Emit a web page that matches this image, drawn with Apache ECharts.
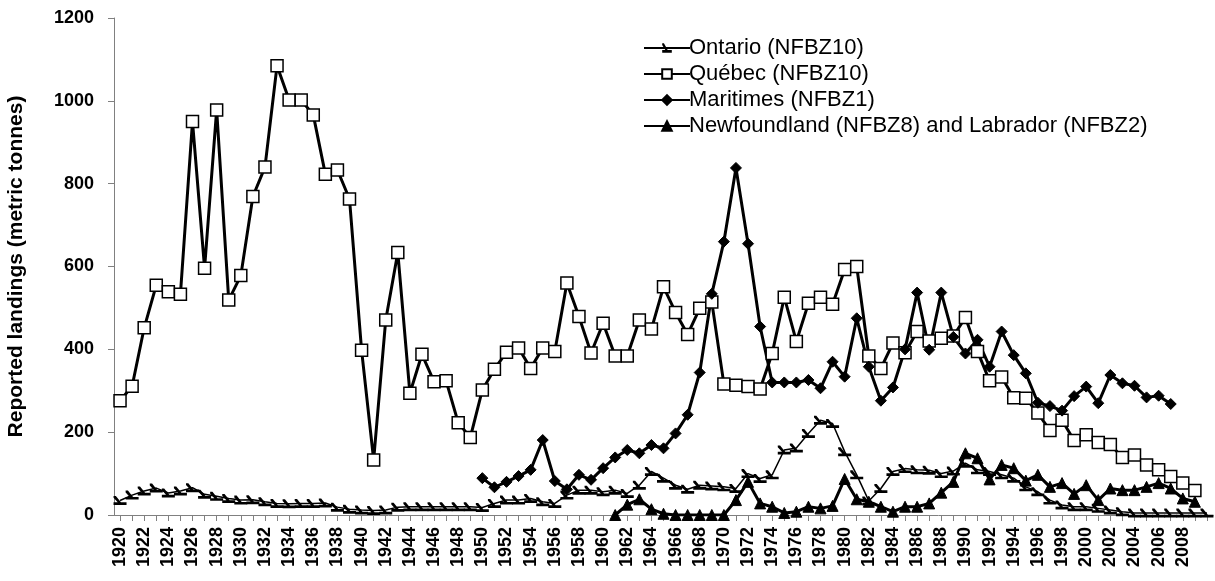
<!DOCTYPE html>
<html>
<head>
<meta charset="utf-8">
<script src="https://cdn.jsdelivr.net/npm/echarts@6/dist/echarts.min.js"></script>
<style>
  html, body { margin: 0; padding: 0; background: #fff; }
  #chart { width: 1215px; height: 581px; }
</style>
</head>
<body>
<div id="chart"></div>
<script>
// years 1920..2010
const years = [];
for (let y = 1920; y <= 2010; y++) years.push(String(y));

const yTicks = [0, 200, 400, 600, 800, 1000, 1200];

// Ontario (NFBZ10), 1920-2010
const ontario = [
  35, 48, 58, 65, 53, 58, 66, 50, 45, 40,
  36, 37, 32, 28, 27, 28, 28, 29, 19, 14,
  12, 11, 12, 19, 20, 20, 20, 20, 20, 20,
  18, 28, 36, 36, 40, 32, 28, 48, 60, 60,
  56, 60, 52, 72, 105, 89, 72, 62, 72, 70,
  68, 64, 100, 88, 97, 157, 162, 197, 229, 221,
  153, 97, 34, 64, 105, 112, 109, 108, 100, 106,
  125, 109, 105, 97, 89, 68, 56, 36, 24, 20,
  20, 16, 12, 8, 5, 5, 5, 5, 5, 5,
  5
];

// Québec (NFBZ10), 1920-2009
const quebec = [
  276, 311, 452, 555, 539, 533, 950, 596, 978, 519,
  578, 769, 840, 1085, 1002, 1002, 966, 823, 833, 763,
  398, 133, 471, 634, 294, 388, 322, 324, 223, 187,
  302, 352, 393, 403, 354, 403, 395, 560, 479, 391,
  463, 384, 384, 471, 449, 551, 489, 436, 499, 514,
  316, 313, 310, 304, 390, 526, 419, 511, 526, 509,
  593, 600, 384, 354, 415, 392, 443, 420, 427, 432,
  477, 395, 324, 333, 283, 282, 246, 204, 229, 180,
  194, 175, 170, 139, 145, 121, 109, 93, 77, 59,
  null
];

// Maritimes (NFBZ1), 1950-2007
const maritimes = [
  null, null, null, null, null, null, null, null, null, null,
  null, null, null, null, null, null, null, null, null, null,
  null, null, null, null, null, null, null, null, null, null,
  89, 67, 80, 94, 109, 181, 82, 62, 97, 85,
  113, 139, 157, 149, 169, 161, 197, 242, 344, 534,
  660, 838, 655, 455, 320, 320, 320, 326, 306, 370,
  334, 475, 358, 276, 308, 400, 537, 399, 537, 430,
  390, 423, 358, 443, 386, 342, 271, 263, 252, 287,
  310, 270, 338, 318, 312, 284, 288, 268, null, null,
  null
];

// Newfoundland (NFBZ8) and Labrador (NFBZ2), 1961-2009
const newfoundland = [
  null, null, null, null, null, null, null, null, null, null,
  null, null, null, null, null, null, null, null, null, null,
  null, null, null, null, null, null, null, null, null, null,
  null, null, null, null, null, null, null, null, null, null,
  null, 0, 25, 38, 14, 3, 0, 0, 0, 0,
  0, 36, 80, 28, 20, 5, 8, 20, 16, 22,
  87, 38, 32, 20, 8, 20, 20, 28, 54, 80,
  149, 137, 86, 121, 113, 83, 97, 68, 77, 51,
  72, 36, 64, 60, 60, 68, 77, 64, 40, 32,
  null
];

const ontarioSymbol = 'path://M0,0 L2.5,0 L8,7 L14,7 L14,10 L0,10 L0,7 L4.5,7 L0,2 Z';

const chart = echarts.init(document.getElementById('chart'), null, { renderer: 'canvas' });

const option = {
  backgroundColor: '#fff',
  animation: false,
  textStyle: { fontFamily: 'Liberation Sans, Arial, sans-serif', color: '#000' },
  grid: { left: 114, right: 2, top: 18, bottom: 66, containLabel: false, outerBoundsMode: 'none' },
  legend: {
    orient: 'vertical',
    left: 638,
    top: 32,
    itemWidth: 46,
    itemHeight: 12,
    itemGap: 4,
    textStyle: { fontSize: 22, color: '#000', fontFamily: 'Liberation Sans, Arial, sans-serif', padding: [0, 0, 0, -6] },
    data: ['Ontario (NFBZ10)', 'Québec (NFBZ10)', 'Maritimes (NFBZ1)', 'Newfoundland (NFBZ8) and Labrador (NFBZ2)']
  },
  xAxis: {
    type: 'category',
    data: years,
    boundaryGap: true,
    axisLine: { lineStyle: { color: '#808080', width: 1 } },
    axisTick: { show: true, interval: 0, alignWithLabel: true, length: 6, lineStyle: { color: '#808080' } },
    axisLabel: {
      interval: function (i, v) { return i % 2 === 0 && v !== '2010'; },
      rotate: 90,
      fontSize: 18,
      fontWeight: 'bold',
      color: '#000',
      margin: 12
    },
    splitLine: { show: false }
  },
  yAxis: {
    type: 'value',
    min: yTicks[0],
    max: yTicks[yTicks.length - 1],
    interval: 200,
    name: 'Reported landings (metric tonnes)',
    nameLocation: 'middle',
    nameGap: 87,
    nameTextStyle: { fontSize: 21, fontWeight: 'bold', color: '#000' },
    axisLine: { show: true, lineStyle: { color: '#808080', width: 1 } },
    axisTick: { show: true, length: 6, lineStyle: { color: '#808080' } },
    axisLabel: {
      fontSize: 18,
      fontWeight: 'bold',
      color: '#000',
      margin: 20,
      formatter: function (v) { return String(v); }
    },
    splitLine: { show: false }
  },
  series: [
    {
      name: 'Ontario (NFBZ10)',
      type: 'line',
      data: ontario,
      symbol: ontarioSymbol,
      symbolSize: [13, 9],
      showAllSymbol: true,
      lineStyle: { color: '#000', width: 1.5 },
      itemStyle: { color: '#000', borderColor: '#000', borderWidth: 0 }
    },
    {
      name: 'Québec (NFBZ10)',
      type: 'line',
      data: quebec,
      symbol: 'rect',
      symbolSize: 12,
      showAllSymbol: true,
      lineStyle: { color: '#000', width: 3 },
      itemStyle: { color: '#fff', borderColor: '#000', borderWidth: 1.5 }
    },
    {
      name: 'Maritimes (NFBZ1)',
      type: 'line',
      data: maritimes,
      symbol: 'diamond',
      symbolSize: 11,
      showAllSymbol: true,
      lineStyle: { color: '#000', width: 3 },
      itemStyle: { color: '#000', borderColor: '#000', borderWidth: 1 }
    },
    {
      name: 'Newfoundland (NFBZ8) and Labrador (NFBZ2)',
      type: 'line',
      data: newfoundland,
      symbol: 'triangle',
      symbolSize: 11,
      showAllSymbol: true,
      lineStyle: { color: '#000', width: 3 },
      itemStyle: { color: '#000', borderColor: '#000', borderWidth: 1 }
    }
  ]
};

chart.setOption(option);
</script>
</body>
</html>
